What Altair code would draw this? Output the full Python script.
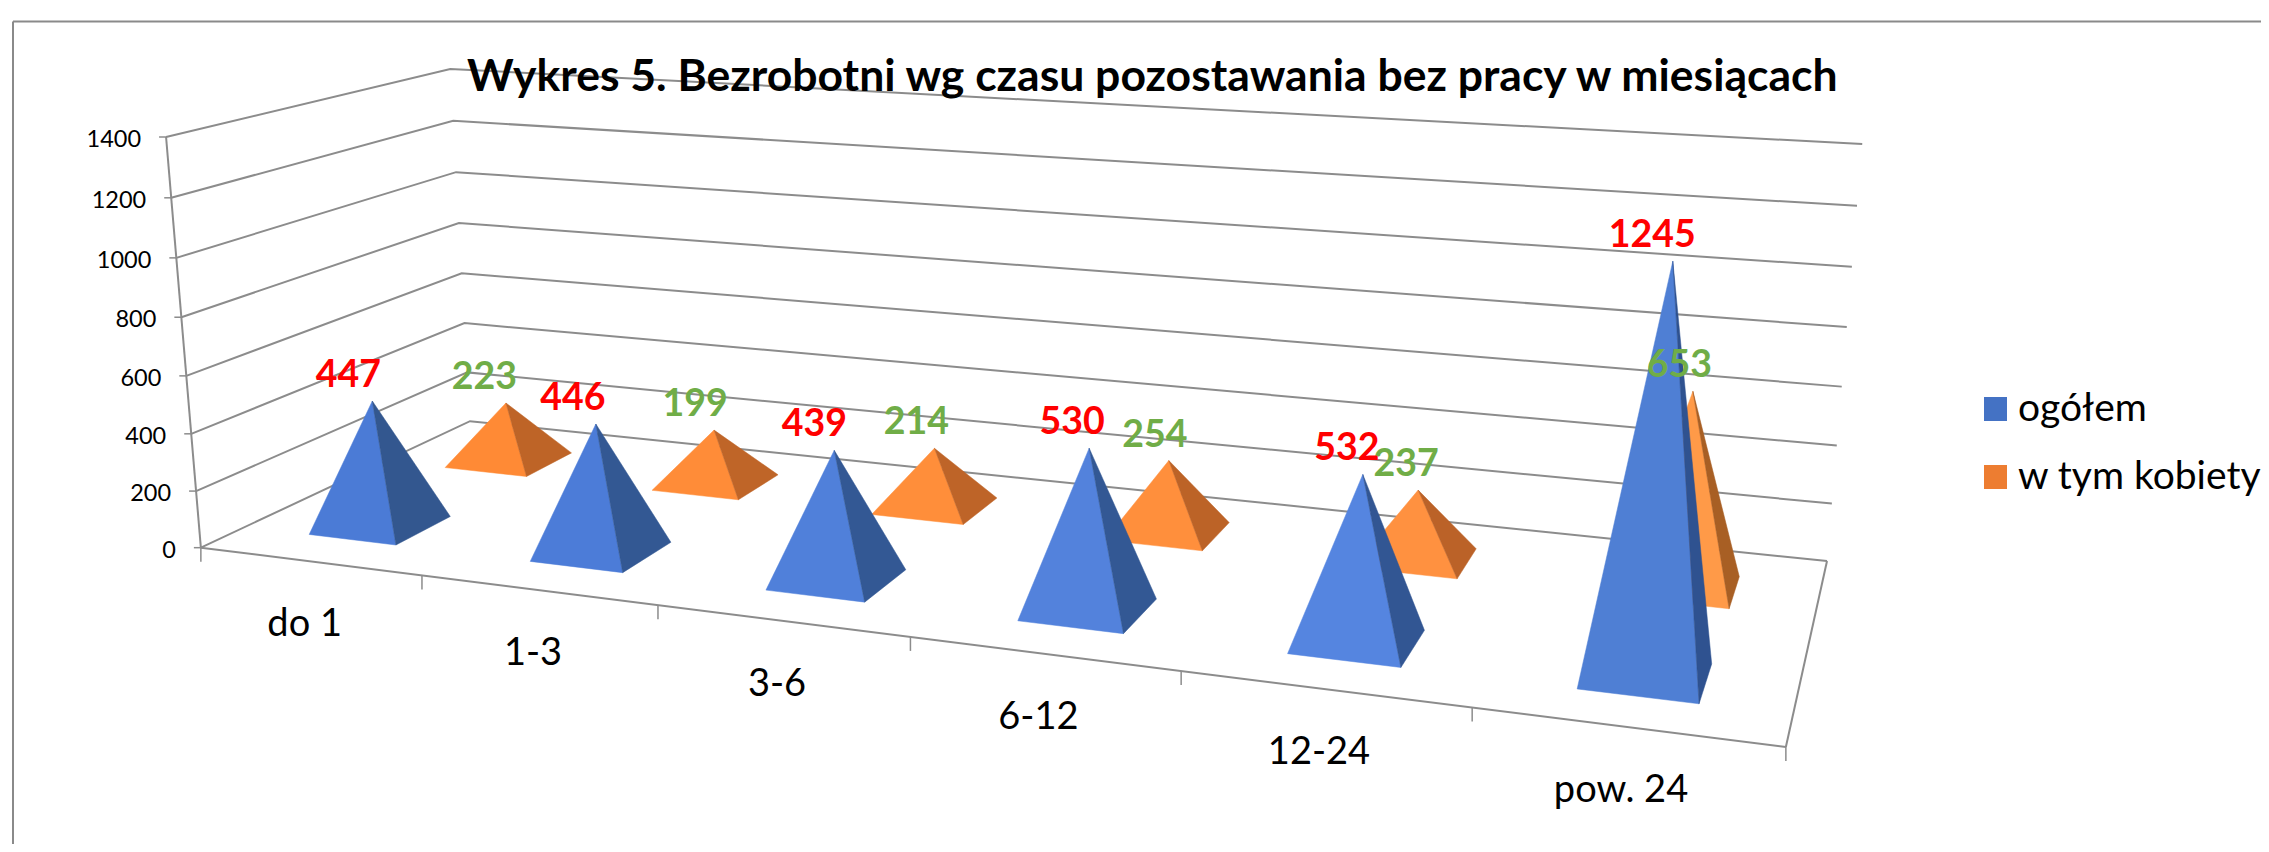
import altair as alt
import numpy as np
import pandas as pd

# ---------- data ----------
categories = ["do 1", "1-3", "3-6", "6-12", "12-24", "pow. 24"]
ogolem = [447, 446, 439, 530, 532, 1245]
kobiety = [223, 199, 214, 254, 237, 653]
series_names = ["ogółem", "w tym kobiety"]
y_ticks = [0, 200, 400, 600, 800, 1000, 1200, 1400]
chart_title = "Wykres 5. Bezrobotni wg czasu pozostawania bez pracy w miesiącach"

# ---------- styles ----------
legend_colors = ["#4472C4", "#ED7D31"]
blue_front = ["#4B7BD6", "#4C7CD8", "#5080DA", "#5382DC", "#5585E0", "#4F7FD4"]
blue_side = ["#33578F", "#335893", "#335894", "#335894", "#325693", "#2F5290"]
orange_front = ["#FF8A35", "#FF8C38", "#FF8E3A", "#FF8F3C", "#FF9140", "#FF9A48"]
orange_side = ["#BE6427", "#BF6528", "#BE6428", "#BC6327", "#BB6228", "#A85F24"]
label_dx_total = [-24, -23, -20, -17, -16, -20.5]
label_dx_women = [-21.5, -19, -18, -14, -12, -13.5]
GRID = "#8c8c8c"
W, H = 2253, 836

# perspective camera of the 3-D box: (slot, depth, value/1400) -> page pixels
CAM = np.array([[207.772431, 350.788817, -41.602107, 200.869498],
                [9.632699, -53.307316, -416.289424, 547.680679],
                [-0.031578, 0.173748, -0.040953, 1.0]])


def proj(u, v, h=0.0):
    p = CAM @ np.array([u, v, h / 1400.0, 1.0])
    return float(p[0] / p[2]), float(p[1] / p[2])


xs = alt.Scale(domain=[8, 8 + W], range=[0, W], nice=False, zero=False)
ys = alt.Scale(domain=[8, 8 + H], range=[0, H], nice=False, zero=False)
X = alt.X("px:Q", scale=xs, axis=None)
Y = alt.Y("py:Q", scale=ys, axis=None)
X2, Y2 = alt.X2("px2:Q"), alt.Y2("py2:Q")

# ---------- walls ----------
wall = []
for t in y_ticks:
    for k, (u, v) in enumerate([(0, 0), (0, 1), (6, 1)]):
        x, y = proj(u, v, t)
        wall.append({"line": f"g{t}", "k": k, "px": x, "py": y})
for name, a, b in [("axis", (0, 0, 1400), (0, 0, 0)), ("front", (0, 0, 0), (6, 0, 0)), ("right", (6, 0, 0), (6, 1, 0))]:
    for k, p in enumerate((a, b)):
        x, y = proj(*p)
        wall.append({"line": name, "k": k, "px": x, "py": y})
walls = alt.Chart(pd.DataFrame(wall)).mark_line(color=GRID, strokeWidth=2).encode(
    x=X, y=Y, order="k:Q", detail="line:N")

ticks = []
for t in y_ticks:
    x, y = proj(0, 0, t)
    ticks.append({"px": x - 7, "py": y, "px2": x, "py2": y})
for u in range(7):
    x, y = proj(u, 0)
    ticks.append({"px": x, "py": y, "px2": x, "py2": y + 14})
tick_rules = alt.Chart(pd.DataFrame(ticks)).mark_rule(color=GRID, strokeWidth=1.5).encode(x=X, y=Y, x2=X2, y2=Y2)

# chart-area border
border = alt.Chart(pd.DataFrame([
    {"px": 13, "py": 21.5, "px2": 8 + W, "py2": 21.5},
    {"px": 13, "py": 21.5, "px2": 13, "py2": 8 + H},
])).mark_rule(color="#8a8a8a", strokeWidth=2).encode(x=X, y=Y, x2=X2, y2=Y2)

# ---------- pyramids ----------
faces = []
labels = []


def pyramid(sid, i, value, v0, v1, cf, cs, dx, lab):
    u0, u1 = i + 0.3, i + 0.7
    apex = proj(i + 0.5, (v0 + v1) / 2, value)
    FL, FR, BR = proj(u0, v0), proj(u1, v0), proj(u1, v1)
    for fname, pts, c in [("f", [FL, FR, apex], cf), ("s", [FR, BR, apex], cs)]:
        fid = f"{sid}{i}{fname}"
        for k, (x, y) in enumerate(pts + pts[:1]):
            faces.append({"face": fid, "k": k, "px": x, "py": y, "c": c})
    labels.append({"px": apex[0] + dx, "py": apex[1] - 25, "t": str(value), "c": lab})


for i, val in enumerate(kobiety):
    pyramid("b", i, val, 0.65, 0.845, orange_front[i], orange_side[i], label_dx_women[i], "#70AD47")
for i, val in enumerate(ogolem):
    pyramid("a", i, val, 0.145, 0.345, blue_front[i], blue_side[i], label_dx_total[i], "#FF0000")

pyramids = alt.Chart(pd.DataFrame(faces)).mark_line(strokeWidth=0.5).encode(
    x=X, y=Y, order="k:Q", detail=alt.Detail("face:N"),
    fill=alt.Fill("c:N", scale=None), stroke=alt.Stroke("c:N", scale=None))

value_labels = alt.Chart(pd.DataFrame(labels)).mark_text(
    font="Lato", fontSize=37.5, fontWeight="bold", baseline="middle", align="center"
).encode(x=X, y=Y, text="t:N", color=alt.Color("c:N", scale=None))

# ---------- axis labels ----------
ylab = [{"px": proj(0, 0, t)[0] - 25, "py": proj(0, 0, t)[1] + 3, "t": str(t)} for t in y_ticks]
y_labels = alt.Chart(pd.DataFrame(ylab)).mark_text(
    font="Lato", fontSize=23.5, align="right", baseline="middle", color="#000000"
).encode(x=X, y=Y, text="t:N")

clab = [{"px": proj(i + 0.5, 0)[0] - 5, "py": proj(i + 0.5, 0)[1] + 64, "t": c} for i, c in enumerate(categories)]
c_labels = alt.Chart(pd.DataFrame(clab)).mark_text(
    font="Lato", fontSize=38, align="center", baseline="middle", color="#000000"
).encode(x=X, y=Y, text="t:N")

# ---------- legend ----------
leg = pd.DataFrame({"px": [1984, 1984], "px2": [2007, 2007], "py": [397, 465], "py2": [421, 489],
                    "c": legend_colors, "t": series_names, "tx": [2018, 2018], "ty": [409, 477]})
leg_sq = alt.Chart(leg).mark_rect().encode(x=X, y=Y, x2=X2, y2=Y2, color=alt.Color("c:N", scale=None))
leg_tx = alt.Chart(leg).mark_text(font="Lato", fontSize=39, align="left", baseline="middle", color="#000000").encode(
    x=alt.X("tx:Q", scale=xs, axis=None), y=alt.Y("ty:Q", scale=ys, axis=None), text="t:N")

chart = alt.layer(border, walls, tick_rules, pyramids, value_labels, y_labels, c_labels, leg_sq, leg_tx).properties(
    width=W, height=H, padding=0, autosize=alt.AutoSizeParams(type="none"),
    title=alt.TitleParams(chart_title, anchor="start", font="Lato", fontSize=44.5, fontWeight="bold",
                          color="#000000", dx=459, dy=127, frame="group", baseline="alphabetic", offset=0),
).configure_view(stroke=None)

chart.save("out.html", embed_options={"renderer": "svg", "actions": False})
